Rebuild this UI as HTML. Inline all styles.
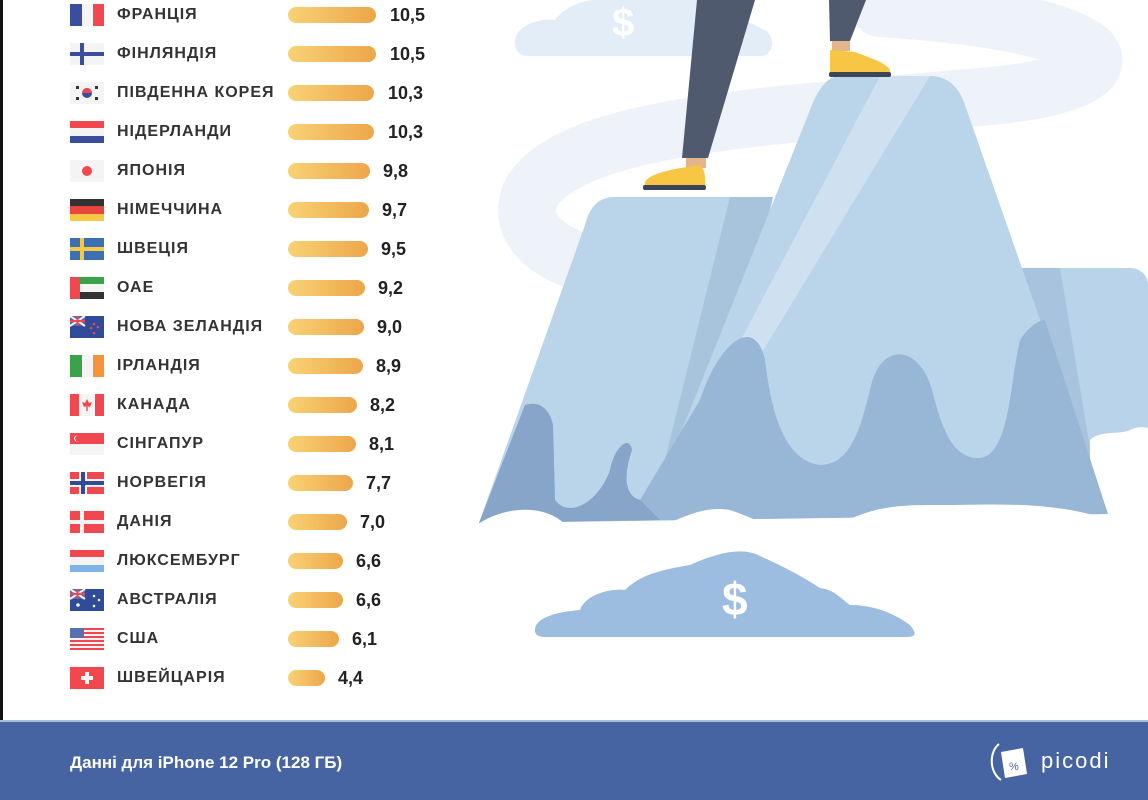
<!DOCTYPE html>
<html><head><meta charset="utf-8"><style>
body{margin:0;width:1148px;height:800px;overflow:hidden;background:#fff;position:relative;font-family:"Liberation Sans","DejaVu Sans",sans-serif}
.lb{position:absolute;left:0;top:0;width:3px;height:720px;background:#111}
.row{position:absolute;left:0;height:22px;width:460px}
.row svg{position:absolute;left:70px;top:0}
.nm{position:absolute;left:117px;top:2px;font-size:16px;font-weight:bold;color:#333;letter-spacing:1px;white-space:nowrap}
.bar{position:absolute;left:288px;top:3px;height:16px;border-radius:8px;background:linear-gradient(90deg,#f8d274,#eda64a)}
.val{position:absolute;top:1px;font-size:18px;font-weight:bold;color:#222}
.foot{position:absolute;left:0;top:720px;width:1148px;height:80px;background:#4764a2;border-top:2px solid #a9bedc;box-sizing:border-box}
.foot .t{position:absolute;left:70px;top:31px;color:#fff;font-size:17px;font-weight:bold}
.foot .p{position:absolute;left:1041px;top:26px;color:#fff;font-size:22px;letter-spacing:2px}
</style></head><body>
<svg style="position:absolute;left:0;top:0" width="1148" height="720">
<path d="M880 8 C1140 25 1140 80 1000 95 C800 115 570 120 530 195 C515 235 560 262 610 268" stroke="#edf3f9" stroke-width="58" fill="none" stroke-linecap="round"/>
<path d="M515 42 C515 25 540 18 555 20 C565 5 590 -2 600 0 L700 0 C720 10 745 20 765 30 C775 35 775 56 760 56 L530 56 C518 56 515 50 515 42Z" fill="#e3edf7"/>
<text x="612" y="36" font-size="40" font-weight="bold" fill="#fff" font-family="Liberation Sans">$</text>
<path d="M1019 268 L1130 268 C1140 268 1148 275 1148 285 L1148 460 L1040 460Z" fill="#b9d4ea"/>
<path d="M1019 268 L1060 268 L1092 460 L1070 460Z" fill="#a7c3dd"/>
<path d="M1090 440 C1100 430 1120 435 1130 430 C1140 425 1148 428 1148 428 L1148 520 L1090 520Z" fill="#fff"/>
<path d="M615 197 L773 197 L700 520 L479 523 L585 225 C590 205 600 197 615 197Z" fill="#bad4ea"/>
<path d="M730 197 L773 197 L700 520 L650 520Z" fill="#a8c4dd"/>
<path d="M840 76 L930 76 C950 76 960 90 965 105 L1108 514 L646 520 L810 110 C818 88 828 76 840 76Z" fill="#bad4ea"/>
<path d="M880 76 L930 76 L660 520 L646 520Z" fill="#cfe1f1"/>
<path d="M479 523 L525 405 C540 400 550 410 553 425 L555 500 C570 520 600 500 610 470 C615 445 630 435 632 450 C625 470 622 495 640 500 L700 400 C720 340 755 315 765 360 C770 400 780 460 820 465 C850 465 860 430 870 390 C880 340 920 345 932 390 C940 420 950 460 980 458 C1010 455 1010 380 1020 340 C1030 325 1040 320 1045 320 L1108 514 Z" fill="#98b6d5"/>
<path d="M479 523 L525 405 C540 400 550 410 553 425 L555 500 C570 520 600 500 610 470 C615 445 630 435 632 450 C625 470 622 495 640 500 L660 520Z" fill="#86a5c9"/>
<path d="M470 530 C500 505 540 505 560 520 C580 535 600 540 640 535 C680 520 700 505 730 510 C760 520 790 540 830 530 C870 505 900 505 940 505 C990 505 1050 500 1110 520 L1110 560 L470 560Z" fill="#fff"/>
<path d="M535 630 C535 618 555 612 580 610 C585 595 610 588 625 590 C640 575 660 570 690 565 C710 556 740 545 760 556 C780 565 800 575 820 588 C835 590 840 598 850 605 C880 605 900 618 910 625 C918 635 915 637 905 637 L545 637 C535 637 535 632 535 630Z" fill="#9dbde0"/>
<text x="722" y="615" font-size="46" font-weight="bold" fill="#fff" font-family="Liberation Sans">$</text>
<path d="M697 0 L755 0 L708 158 L682 158Z" fill="#4f5a6e"/>
<path d="M829 0 L866 0 L850 41 L830 41Z" fill="#4f5a6e"/>
<rect x="686" y="158" width="20" height="10" fill="#e5b58a"/>
<rect x="832" y="41" width="18" height="10" fill="#e5b58a"/>
<path d="M645 182 C650 172 680 168 700 165 C705 170 706 178 705 188 L644 188Z" fill="#f6c644"/>
<rect x="643" y="185" width="63" height="5" rx="2" fill="#3d4556"/>
<path d="M830 50 L855 52 C870 58 885 62 890 70 L890 74 L830 74Z" fill="#f6c644"/>
<rect x="829" y="72" width="62" height="5" rx="2" fill="#3d4556"/>
</svg>
<div class="lb"></div>

<div class="row" style="top:4px"><svg width="34" height="22"><rect width="12" height="22" fill="#3a4ea0"/><rect x="12" width="11" height="22" fill="#f4f4f4"/><rect x="23" width="11" height="22" fill="#f0484e"/></svg><div class="nm">ФРАНЦІЯ</div><div class="bar" style="width:88px"></div><div class="val" style="left:390px">10,5</div></div>
<div class="row" style="top:43px"><svg width="34" height="22"><rect width="34" height="22" fill="#f4f4f4"/><rect y="9" width="34" height="4" fill="#3a4ea0"/><rect x="10" width="4" height="22" fill="#3a4ea0"/></svg><div class="nm">ФІНЛЯНДІЯ</div><div class="bar" style="width:88px"></div><div class="val" style="left:390px">10,5</div></div>
<div class="row" style="top:82px"><svg width="34" height="22"><rect width="34" height="22" fill="#f4f4f4"/><circle cx="17" cy="11" r="5" fill="#3a4ea0"/><path d="M12 11 A5 5 0 0 1 22 11Z" fill="#f0484e"/><g fill="#333"><rect x="6" y="4" width="3" height="3"/><rect x="25" y="4" width="3" height="3"/><rect x="6" y="15" width="3" height="3"/><rect x="25" y="15" width="3" height="3"/></g></svg><div class="nm">ПІВДЕННА КОРЕЯ</div><div class="bar" style="width:86px"></div><div class="val" style="left:388px">10,3</div></div>
<div class="row" style="top:121px"><svg width="34" height="22"><rect width="34" height="7" fill="#f0484e"/><rect y="7" width="34" height="8" fill="#f4f4f4"/><rect y="15" width="34" height="7" fill="#3a4ea0"/></svg><div class="nm">НІДЕРЛАНДИ</div><div class="bar" style="width:86px"></div><div class="val" style="left:388px">10,3</div></div>
<div class="row" style="top:160px"><svg width="34" height="22"><rect width="34" height="22" fill="#f4f4f4"/><circle cx="17" cy="11" r="5" fill="#f0484e"/></svg><div class="nm">ЯПОНІЯ</div><div class="bar" style="width:82px"></div><div class="val" style="left:383px">9,8</div></div>
<div class="row" style="top:199px"><svg width="34" height="22"><rect width="34" height="7" fill="#333"/><rect y="7" width="34" height="8" fill="#e8453c"/><rect y="15" width="34" height="7" fill="#f6c945"/></svg><div class="nm">НІМЕЧЧИНА</div><div class="bar" style="width:81px"></div><div class="val" style="left:382px">9,7</div></div>
<div class="row" style="top:238px"><svg width="34" height="22"><rect width="34" height="22" fill="#3d6fb5"/><rect y="9" width="34" height="4" fill="#f6c945"/><rect x="10" width="4" height="22" fill="#f6c945"/></svg><div class="nm">ШВЕЦІЯ</div><div class="bar" style="width:80px"></div><div class="val" style="left:381px">9,5</div></div>
<div class="row" style="top:277px"><svg width="34" height="22"><rect width="34" height="7" fill="#3aa34a"/><rect y="7" width="34" height="8" fill="#f4f4f4"/><rect y="15" width="34" height="7" fill="#333"/><rect width="10" height="22" fill="#f0484e"/></svg><div class="nm">ОАЕ</div><div class="bar" style="width:77px"></div><div class="val" style="left:378px">9,2</div></div>
<div class="row" style="top:316px"><svg width="34" height="22"><rect width="34" height="22" fill="#2f4b9a"/><rect width="15" height="10" fill="#5566aa"/><path d="M0 0L15 10M15 0L0 10" stroke="#f4f4f4" stroke-width="2"/><path d="M7.5 0V10M0 5H15" stroke="#f0484e" stroke-width="2"/><g fill="#f0484e"><circle cx="24" cy="8" r="1.3"/><circle cx="28" cy="11" r="1.3"/><circle cx="24" cy="17" r="1.3"/><circle cx="21" cy="12" r="1.3"/></g></svg><div class="nm">НОВА ЗЕЛАНДІЯ</div><div class="bar" style="width:76px"></div><div class="val" style="left:377px">9,0</div></div>
<div class="row" style="top:355px"><svg width="34" height="22"><rect width="12" height="22" fill="#3aa34a"/><rect x="12" width="11" height="22" fill="#f4f4f4"/><rect x="23" width="11" height="22" fill="#f7943a"/></svg><div class="nm">ІРЛАНДІЯ</div><div class="bar" style="width:75px"></div><div class="val" style="left:376px">8,9</div></div>
<div class="row" style="top:394px"><svg width="34" height="22"><rect width="34" height="22" fill="#f0484e"/><rect x="9" width="16" height="22" fill="#f4f4f4"/><path d="M17 5 L19 9 L22 8 L20 13 L17 12 L14 13 L12 8 L15 9Z" fill="#f0484e"/><rect x="16.3" y="12" width="1.4" height="5" fill="#f0484e"/></svg><div class="nm">КАНАДА</div><div class="bar" style="width:69px"></div><div class="val" style="left:370px">8,2</div></div>
<div class="row" style="top:433px"><svg width="34" height="22"><rect width="34" height="11" fill="#f0484e"/><rect y="11" width="34" height="11" fill="#f4f4f4"/><circle cx="7" cy="5.5" r="3" fill="#f4f4f4"/><circle cx="8.2" cy="5.5" r="3" fill="#f0484e"/></svg><div class="nm">СІНГАПУР</div><div class="bar" style="width:68px"></div><div class="val" style="left:369px">8,1</div></div>
<div class="row" style="top:472px"><svg width="34" height="22"><rect width="34" height="22" fill="#f0484e"/><rect y="7" width="34" height="8" fill="#f4f4f4"/><rect x="9" width="8" height="22" fill="#f4f4f4"/><rect y="9" width="34" height="4" fill="#2f4b9a"/><rect x="11" width="4" height="22" fill="#2f4b9a"/></svg><div class="nm">НОРВЕГІЯ</div><div class="bar" style="width:65px"></div><div class="val" style="left:366px">7,7</div></div>
<div class="row" style="top:511px"><svg width="34" height="22"><rect width="34" height="22" fill="#f0484e"/><rect y="9" width="34" height="4" fill="#f4f4f4"/><rect x="10" width="4" height="22" fill="#f4f4f4"/></svg><div class="nm">ДАНІЯ</div><div class="bar" style="width:59px"></div><div class="val" style="left:360px">7,0</div></div>
<div class="row" style="top:550px"><svg width="34" height="22"><rect width="34" height="7" fill="#f0484e"/><rect y="7" width="34" height="8" fill="#f4f4f4"/><rect y="15" width="34" height="7" fill="#7fb3ea"/></svg><div class="nm">ЛЮКСЕМБУРГ</div><div class="bar" style="width:55px"></div><div class="val" style="left:356px">6,6</div></div>
<div class="row" style="top:589px"><svg width="34" height="22"><rect width="34" height="22" fill="#2f4b9a"/><rect width="15" height="10" fill="#5566aa"/><path d="M0 0L15 10M15 0L0 10" stroke="#f4f4f4" stroke-width="2"/><path d="M7.5 0V10M0 5H15" stroke="#f0484e" stroke-width="2"/><g fill="#f4f4f4"><circle cx="24" cy="7" r="1.3"/><circle cx="29" cy="11" r="1.3"/><circle cx="24" cy="17" r="1.3"/><circle cx="8" cy="16" r="1.8"/></g></svg><div class="nm">АВСТРАЛІЯ</div><div class="bar" style="width:55px"></div><div class="val" style="left:356px">6,6</div></div>
<div class="row" style="top:628px"><svg width="34" height="22"><rect width="34" height="22" fill="#f4f4f4"/><g fill="#f0484e"><rect y="0" width="34" height="2"/><rect y="4" width="34" height="2"/><rect y="8" width="34" height="2"/><rect y="12" width="34" height="2"/><rect y="16" width="34" height="2"/><rect y="20" width="34" height="2"/></g><rect width="14" height="10" fill="#5a6fb0"/></svg><div class="nm">США</div><div class="bar" style="width:51px"></div><div class="val" style="left:352px">6,1</div></div>
<div class="row" style="top:667px"><svg width="34" height="22"><rect width="34" height="22" fill="#f0484e"/><rect x="15" y="5" width="4" height="12" fill="#f4f4f4"/><rect x="11" y="9" width="12" height="4" fill="#f4f4f4"/></svg><div class="nm">ШВЕЙЦАРІЯ</div><div class="bar" style="width:37px"></div><div class="val" style="left:338px">4,4</div></div>

<div class="foot"><div class="t">Данні для iPhone 12 Pro (128 ГБ)</div>
<svg style="position:absolute;left:987px;top:16px" width="50" height="48"><path d="M12 6 C2 14 2 34 14 42" stroke="#fff" stroke-width="2" fill="none"/><path d="M14 14 L36 10 L40 36 L18 40Z" fill="#fff"/><text x="22" y="32" font-size="11" fill="#4764a2" font-family="Liberation Sans">%</text></svg>
<div class="p">picodi</div></div>
</body></html>
